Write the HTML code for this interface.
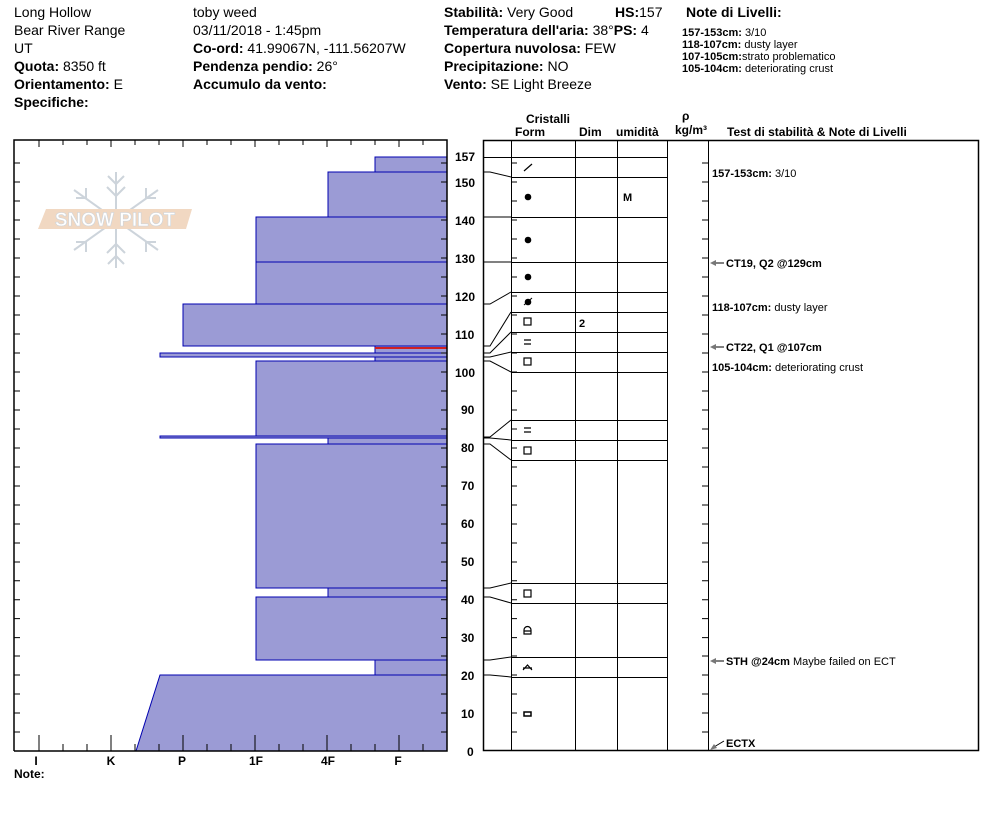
<!DOCTYPE html>
<html><head><meta charset="utf-8"><style>
body{margin:0;background:#fff;}
svg{display:block;font-family:"Liberation Sans",Arial,sans-serif;}
.h{font-size:14px;fill:#000}
.b{font-weight:bold}
.ax{font-size:12px;font-weight:bold}
</style></head><body>
<svg width="994" height="840" viewBox="0 0 994 840" xmlns="http://www.w3.org/2000/svg">
<defs>
<path id="tk" stroke="#000" stroke-width="1" d="M0 732h6M0 713h6M0 694h6M0 675h6M0 656h6M0 637.6h6M0 618.6h6M0 599.8h6M0 580.8h6M0 562h6M0 543h6M0 524h6M0 505h6M0 486h6M0 467h6M0 448h6M0 429h6M0 410h6M0 391h6M0 372h6M0 353h6M0 334h6M0 315h6M0 296h6M0 277h6M0 258h6M0 239h6M0 220h6M0 201h6M0 182h6M0 163h6"/>
</defs>
<g class="h">
<text x="14" y="17">Long Hollow</text>
<text x="14" y="35">Bear River Range</text>
<text x="14" y="53">UT</text>
<text x="14" y="71"><tspan class="b">Quota:</tspan> 8350 ft</text>
<text x="14" y="89"><tspan class="b">Orientamento:</tspan> E</text>
<text x="14" y="107" class="b">Specifiche:</text>
<text x="193" y="17">toby weed</text>
<text x="193" y="35">03/11/2018 - 1:45pm</text>
<text x="193" y="53"><tspan class="b">Co-ord:</tspan> 41.99067N, -111.56207W</text>
<text x="193" y="71"><tspan class="b">Pendenza pendio:</tspan> 26°</text>
<text x="193" y="89" class="b">Accumulo da vento:</text>
<text x="444" y="17"><tspan class="b">Stabilità:</tspan> Very Good</text>
<text x="444" y="35"><tspan class="b">Temperatura dell'aria:</tspan> 38°<tspan class="b">PS:</tspan> 4</text>
<text x="444" y="53"><tspan class="b">Copertura nuvolosa:</tspan> FEW</text>
<text x="444" y="71"><tspan class="b">Precipitazione:</tspan> NO</text>
<text x="444" y="89"><tspan class="b">Vento:</tspan>  SE  Light Breeze</text>
<text x="615" y="17"><tspan class="b">HS:</tspan>157</text>
<text x="686" y="17" class="b">Note di Livelli:</text>
</g>
<g font-size="11">
<text x="682" y="36"><tspan font-weight="bold">157-153cm:</tspan> 3/10</text>
<text x="682" y="48"><tspan font-weight="bold">118-107cm:</tspan> dusty layer</text>
<text x="682" y="60"><tspan font-weight="bold">107-105cm:</tspan>strato problematico</text>
<text x="682" y="72"><tspan font-weight="bold">105-104cm:</tspan> deteriorating crust</text>
</g>
<g font-size="12" font-weight="bold">
<text x="526" y="123">Cristalli</text>
<text x="515" y="136">Form</text>
<text x="579" y="136">Dim</text>
<text x="616" y="136">umidità</text>
<text x="682" y="120">ρ</text>
<text x="675" y="134">kg/m³</text>
<text x="727" y="136">Test di stabilità &amp; Note di Livelli</text>
</g>

<!-- logo -->
<g opacity="0.9">
<g stroke="#c8d0d8" stroke-width="2" fill="none">
<path d="M116 172 V268 M74 190 L158 250 M158 190 L74 250"/>
<path d="M116 184 l-8 -8 M116 184 l8 -8 M116 196 l-9 -9 M116 196 l9 -9 M116 256 l-8 8 M116 256 l8 8 M116 244 l-9 9 M116 244 l9 9"/>
<path d="M86 198 l-10 0 M86 198 l0 -10 M146 198 l10 0 M146 198 l0 -10 M86 242 l-10 0 M86 242 l0 10 M146 242 l10 0 M146 242 l0 10"/>
</g>
<polygon points="46,209 192,209 186,229 38,229" fill="#f0d4bc"/>
<text x="115" y="226" text-anchor="middle" font-size="19" fill="#fff" stroke="#c8d0d8" stroke-width="0.6" font-weight="bold">SNOW PILOT</text>
</g>

<!-- hardness bars -->
<g fill="#9b9bd5" stroke="#0000b0" stroke-width="1">
<rect x="375" y="157" width="72" height="15"/>
<rect x="328" y="172" width="119" height="45"/>
<rect x="256" y="217" width="191" height="45"/>
<rect x="256" y="262" width="191" height="42"/>
<rect x="183" y="304" width="264" height="42"/>
<rect x="375" y="346" width="72" height="15"/>
<rect x="160" y="353" width="287" height="4"/>
<rect x="256" y="361" width="191" height="76"/>
<rect x="160" y="436" width="287" height="2"/>
<rect x="328" y="438" width="119" height="6"/>
<rect x="256" y="444" width="191" height="144"/>
<rect x="328" y="588" width="119" height="9"/>
<rect x="256" y="597" width="191" height="63"/>
<rect x="375" y="660" width="72" height="15"/>
<polygon points="160,675 447,675 447,751 136,751"/>
</g>
<line x1="375" y1="348" x2="447" y2="348" stroke="#d02020" stroke-width="2"/>

<!-- left chart frame -->
<g stroke="#000" fill="none" stroke-width="1.5">
<path d="M14 751 V140 H447 V751 H14"/>
</g>
<g stroke="#000" stroke-width="1">
<path d="M39 140v7M63 140v5M87 140v5M111 140v7M135 140v5M159 140v5M183 140v7M207 140v5M231 140v5M255 140v7M279 140v5M303 140v5M327 140v7M351 140v5M375 140v5M399 140v7M423 140v5"/>
<path d="M39 751v-16M63 751v-7M87 751v-7M111 751v-16M135 751v-7M159 751v-7M183 751v-16M207 751v-7M231 751v-7M255 751v-16M279 751v-7M303 751v-7M327 751v-16M351 751v-7M375 751v-7M399 751v-16M423 751v-7"/>
</g>
<use href="#tk" x="14"/>
<use href="#tk" x="441"/>
<use href="#tk" x="511"/>
<use href="#tk" x="702"/>

<g class="ax">
<text x="36" y="765" text-anchor="middle">I</text>
<text x="111" y="765" text-anchor="middle">K</text>
<text x="182" y="765" text-anchor="middle">P</text>
<text x="256" y="765" text-anchor="middle">1F</text>
<text x="328" y="765" text-anchor="middle">4F</text>
<text x="398" y="765" text-anchor="middle">F</text>
<text x="14" y="778">Note:</text>
<text x="455" y="161">157</text>
<text x="455" y="187">150</text>
<text x="455" y="225">140</text>
<text x="455" y="263">130</text>
<text x="455" y="301">120</text>
<text x="455" y="339">110</text>
<text x="455" y="377">100</text>
<text x="461" y="414">90</text>
<text x="461" y="452">80</text>
<text x="461" y="490">70</text>
<text x="461" y="528">60</text>
<text x="461" y="566">50</text>
<text x="461" y="604">40</text>
<text x="461" y="642">30</text>
<text x="461" y="680">20</text>
<text x="461" y="718">10</text>
<text x="467" y="756">0</text>
</g>

<!-- right table -->
<g stroke="#000" fill="none" stroke-width="1">
<rect x="483.5" y="140.5" width="495" height="610" stroke-width="1.5"/>
<path d="M511.5 140V751M575.5 140V751M617.5 140V751M667.5 140V751M708.5 140V751"/>
<path d="M483 157.5H667M511 177.5H667M511 217.5H667M511 262.5H667M511 292.5H667M511 312.5H667M511 332.5H667M511 352.5H667M511 372.5H667M511 420.5H667M511 440.5H667M511 460.5H667M511 583.5H667M511 603.5H667M511 657.5H667M511 677.5H667"/>
<path d="M483 172 H490 L511 177 M483 217H511 M483 262H511 M483 304H490 L511 292 M483 346H490 L511 312 M483 353H490 L511 332 M483 357H490 L511 352 M483 361H490 L511 372 M483 437H490 L511 420 M483 438H490 L511 440 M483 444H490 L511 460 M483 588H490 L511 583 M483 597H490 L511 603 M483 660H490 L511 657 M483 675H490 L511 677"/>
</g>
<!-- symbols -->
<g stroke="#000" fill="none" stroke-width="1.2">
<line x1="524" y1="171" x2="532" y2="164"/>
<rect x="524" y="318" width="7" height="7"/>
<path d="M524 340h7M524 344h7M524 428h7M524 432h7"/>
<rect x="524" y="358" width="7" height="7"/>
<rect x="524" y="447" width="7" height="7"/>
<rect x="524" y="590" width="7" height="7"/>
<path d="M524 634v-4a3.5 3.5 0 0 1 7 0v4zM524 631h7"/>
<path d="M523 670l4.5 -5l4.5 5M523 668h9"/>
<rect x="524" y="712" width="7" height="4" stroke-width="1.5"/>
</g>
<g fill="#000">
<circle cx="528" cy="197" r="3.3"/>
<circle cx="528" cy="240" r="3.3"/>
<circle cx="528" cy="277" r="3.3"/>
<circle cx="528" cy="302" r="3.3"/>
<line x1="524" y1="305" x2="532" y2="298" stroke="#000"/>
</g>
<g font-size="11" font-weight="bold">
<text x="623" y="201">M</text>
<text x="579" y="327">2</text>
</g>
<!-- annotations -->
<g font-size="11">
<text x="712" y="177"><tspan font-weight="bold">157-153cm:</tspan> 3/10</text>
<text x="726" y="267" font-weight="bold">CT19, Q2 @129cm</text>
<text x="712" y="311"><tspan font-weight="bold">118-107cm:</tspan> dusty layer</text>
<text x="726" y="351" font-weight="bold">CT22, Q1 @107cm</text>
<text x="712" y="371"><tspan font-weight="bold">105-104cm:</tspan> deteriorating crust</text>
<text x="726" y="665"><tspan font-weight="bold">STH @24cm</tspan>  Maybe failed on ECT</text>
<text x="726" y="747" font-weight="bold">ECTX</text>
</g>
<g stroke="#000" stroke-width="1">
<path d="M716 263H724M716 347H724M716 661H724M714 747L724 741"/>
</g>
<g fill="#777">
<path d="M710 263l6 -3v6zM710 347l6 -3v6zM710 661l6 -3v6zM710 750l4 -6l3 4z"/>
</g>
</svg>
</body></html>
